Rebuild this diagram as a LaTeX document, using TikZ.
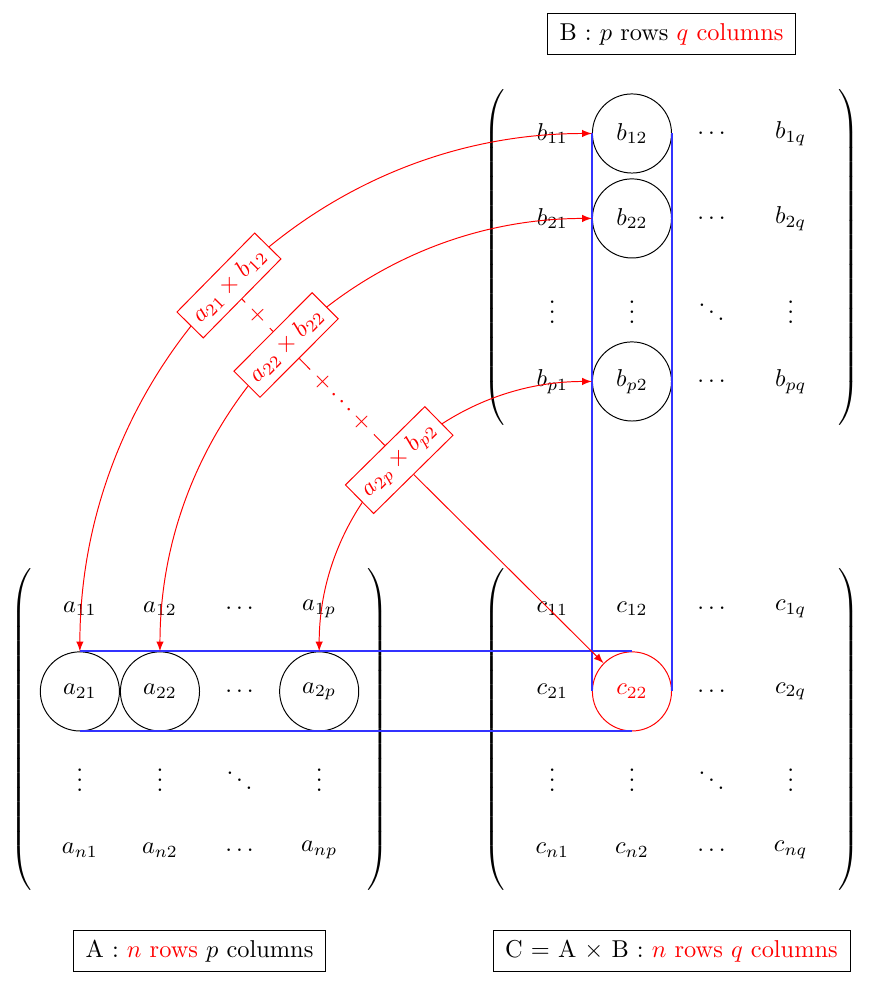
\documentclass[tikz,border=0pt]{standalone}
\usepackage{amsmath}
\usepackage{xcolor}
\usetikzlibrary{matrix,positioning}

\tikzset{
  cell/.style={circle, minimum size=1.14cm, inner sep=0pt, anchor=center},
  picked/.style={cell, draw},
  result/.style={cell, draw=red, text=red},
  product/.style={draw=red, fill=white, text=red, sloped},
  caption/.style={draw, inner xsep=5pt, inner ysep=4pt},
  rowcol/.style={draw=blue!80, line width=0.8pt}
}

\begin{document}
\begin{tikzpicture}[>=latex]
  \useasboundingbox (0,0) rectangle (12.565,-14.222);

  % matrix A
  \matrix (A) [matrix of math nodes, cells={nodes={cell}}, inner xsep=2pt, inner ysep=2pt,
               left delimiter=(, right delimiter=)] at (2.875,-10.51)
  {
    a_{11} & a_{12} & \ldots & a_{1p} \\[0.045cm]
    |[picked]| a_{21} & |[picked]| a_{22} & \ldots & |[picked]| a_{2p} \\[0.03cm]
    \vdots & \vdots & \ddots & \vdots \\[-0.03cm]
    a_{n1} & a_{n2} & \ldots & a_{np} \\
  };
  \node[caption, below=0.5cm of A] (Acap) {A : \textcolor{red}{$n$ rows} $p$ columns};

  % matrix B
  \matrix (B) [matrix of math nodes, cells={nodes={cell}}, inner xsep=2pt, inner ysep=2pt,
               left delimiter=(, right delimiter=)] at (9.676,-3.71)
  {
    b_{11} & |[picked]| b_{12} & \ldots & b_{1q} \\[0.07cm]
    b_{21} & |[picked]| b_{22} & \ldots & b_{2q} \\[0.1cm]
    \vdots & \vdots & \ddots & \vdots \\[-0.045cm]
    b_{p1} & |[picked]| b_{p2} & \ldots & b_{pq} \\
  };
  \node[caption, above=0.47cm of B] (Bcap) {B : $p$ rows \textcolor{red}{$q$ columns}};

  % matrix C = A x B
  \matrix (C) [matrix of math nodes, cells={nodes={cell}}, inner xsep=2pt, inner ysep=2pt,
               left delimiter=(, right delimiter=)] at (9.676,-10.51)
  {
    c_{11} & c_{12} & \ldots & c_{1q} \\[0.045cm]
    c_{21} & |[result]| c_{22} & \ldots & c_{2q} \\[0.03cm]
    \vdots & \vdots & \ddots & \vdots \\[-0.03cm]
    c_{n1} & c_{n2} & \ldots & c_{nq} \\
  };
  \node[caption, below=0.5cm of C] (Ccap) {C $=$ A $\times$ B : \textcolor{red}{$n$ rows $q$ columns}};

  % row of A and column of B
  \draw[rowcol] (A-2-1.north) -- (C-2-2.north);
  \draw[rowcol] (A-2-1.south) -- (C-2-2.south);
  \draw[rowcol] (B-1-2.west) -- (C-2-2.west);
  \draw[rowcol] (B-1-2.east) -- (C-2-2.east);

  % products
  \draw[<->, red] (A-2-1) to[out=90, in=180] node[product] (x) {$a_{21}\times b_{12}$} (B-1-2);
  \draw[<->, red] (A-2-2) to[out=90, in=180] node[product] (y) {$a_{22}\times b_{22}$} (B-2-2);
  \draw[<->, red] (A-2-4) to[out=90, in=180] node[product] (z) {$a_{2p}\times b_{p2}$} (B-4-2);

  % sum
  \draw[red] (x) -- node[product, draw=none] {$+$} (y);
  \draw[red] (y) -- node[product, draw=none] {$+\cdots+$} (z);
  \draw[->, red] (z) -- (C-2-2);
\end{tikzpicture}
\end{document}
